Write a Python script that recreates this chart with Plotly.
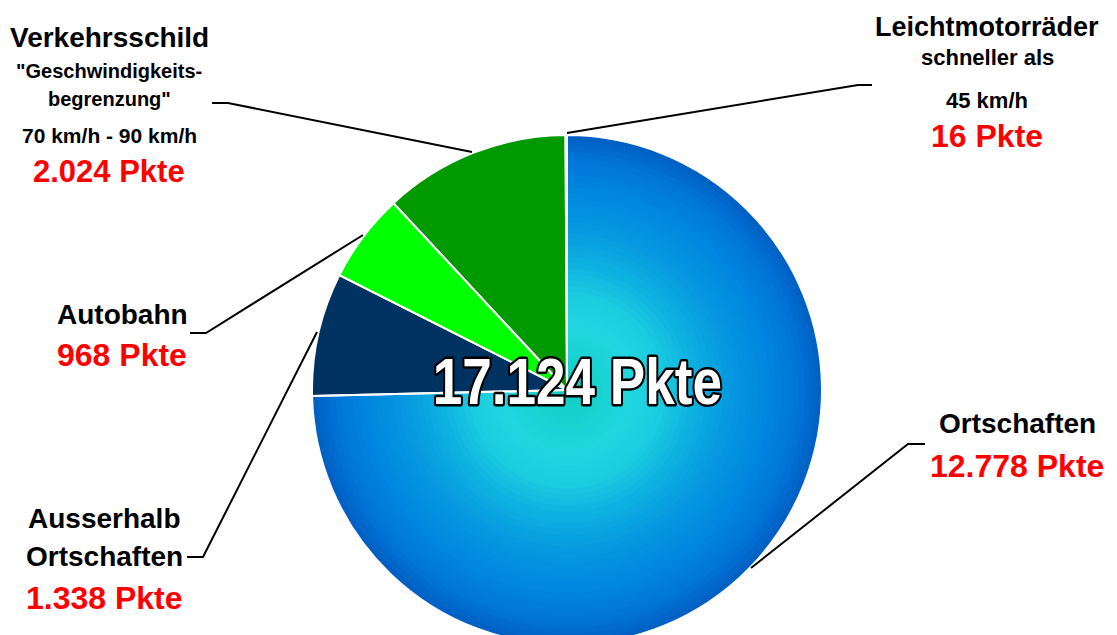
import plotly.graph_objects as go

# ---------------- data ----------------
categories = ["Ortschaften", "Ausserhalb Ortschaften", "Autobahn",
              "Verkehrsschild Geschwindigkeitsbegrenzung", "Leichtmotorräder schneller als 45 km/h"]
values = [12778, 1338, 968, 2024, 16]
slice_colors = ["#0062c4", "#003262", "#00ff00", "#009900", "#1f7fd0"]

label_lines = {
    "Verkehrsschild Geschwindigkeitsbegrenzung": ["Verkehrsschild", "\"Geschwindigkeits-", "begrenzung\"", "70 km/h - 90 km/h"],
    "Leichtmotorräder schneller als 45 km/h": ["Leichtmotorräder", "schneller als", "45 km/h"],
    "Autobahn": ["Autobahn"],
    "Ausserhalb Ortschaften": ["Ausserhalb", "Ortschaften"],
    "Ortschaften": ["Ortschaften"],
}

W, H = 1117, 650
FONT = "Liberation Sans, Arial, sans-serif"


def de_num(v):
    return f"{v:,}".replace(",", ".")


def px(x, y):
    return x / W, 1 - y / H


fig = go.Figure()

# pie geometry (pixels)
cx, cy, R = 567, 390, 255


def dom(f):
    r = R * f
    return dict(x=[(cx - r) / W, (cx + r) / W], y=[1 - (cy + r) / H, 1 - (cy - r) / H])


# radial gradient for the big slice (approximation with concentric layers)
stops = [(1.00, (0, 96, 196)), (0.92, (0, 116, 216)), (0.80, (0, 134, 224)),
         (0.65, (6, 152, 224)), (0.50, (14, 178, 224)), (0.38, (28, 204, 224)),
         (0.26, (34, 214, 224)), (0.14, (24, 210, 208)), (0.0, (16, 206, 192))]


def grad(f):
    for (f1, c1), (f2, c2) in zip(stops[:-1], stops[1:]):
        if f2 <= f <= f1:
            t = (f1 - f) / (f1 - f2) if f1 != f2 else 0
            c = [round(a + (b - a) * t) for a, b in zip(c1, c2)]
            return f"rgb({c[0]},{c[1]},{c[2]})"
    return "rgb(16,206,192)"


n_layers = 44
for i in range(n_layers):
    f = 1 - i / n_layers
    cols = [grad(f)] + (slice_colors[1:] if i == 0 else ["rgba(0,0,0,0)"] * (len(values) - 1))
    fig.add_trace(go.Pie(
        labels=categories, values=values, sort=False, direction="clockwise", rotation=0,
        marker=dict(colors=cols, line=dict(width=0)),
        textinfo="none", hoverinfo="skip", showlegend=False, domain=dom(f),
    ))

# white slice borders on top
fig.add_trace(go.Pie(
    labels=categories, values=values, sort=False, direction="clockwise", rotation=0,
    marker=dict(colors=["rgba(0,0,0,0)"] * len(values), line=dict(color="white", width=2)),
    textinfo="none", hoverinfo="skip", showlegend=False, domain=dom(1),
))

annotations = []


def add_text(x, y, text, size, color="black", family=FONT):
    ax, ay = px(x, y)
    annotations.append(dict(x=ax, y=ay, xref="paper", yref="paper", text=f"<b>{text}</b>",
                            showarrow=False, xanchor="center", yanchor="middle",
                            font=dict(size=size, color=color, family=family)))


# label blocks: (center x, line y positions, sizes, value y, value size)
blocks = {
    "Verkehrsschild Geschwindigkeitsbegrenzung": (109, [38, 71, 99, 135], [28, 20, 20, 21], 171, 31),
    "Leichtmotorräder schneller als 45 km/h": (987, [27, 58, 100], [27, 22, 22], 136, 32),
    "Autobahn": (122, [314], [28], 355, 32),
    "Ausserhalb Ortschaften": (104, [518, 556], [28, 28], 598, 32),
    "Ortschaften": (1017, [424], [28], 466, 32),
}
for cat, (bx, ys, sizes, vy, vs) in blocks.items():
    for line, y, s in zip(label_lines[cat], ys, sizes):
        add_text(bx, y, line, s)
    add_text(bx, vy, f"{de_num(values[categories.index(cat)])} Pkte", vs, color="#ff0000")

# total in the middle
tx, ty = px(577, 382)
annotations.append(dict(
    x=tx, y=ty, xref="paper", yref="paper", showarrow=False,
    text=f"<b>{de_num(sum(values))} Pkte</b>", xanchor="center", yanchor="middle",
    font=dict(size=64, color="white", family="Liberation Sans, Arial, sans-serif"),
))

# leader lines
leaders = [
    [(212, 103), (228, 103), (472, 152)],
    [(567, 133), (858, 85), (872, 85)],
    [(190, 333), (206, 333), (363, 235)],
    [(187, 557), (203, 557), (317, 332)],
    [(751, 568), (908, 444), (925, 444)],
]
shapes = []
for pts in leaders:
    path = "M " + " L ".join(f"{p[0] / W:.5f},{1 - p[1] / H:.5f}" for p in pts)
    shapes.append(dict(type="path", path=path, xref="paper", yref="paper",
                       line=dict(color="black", width=2)))

fig.update_layout(
    width=W, height=H, margin=dict(l=0, r=0, t=0, b=0),
    paper_bgcolor="white", plot_bgcolor="white",
    annotations=annotations, shapes=shapes, showlegend=False,
)

post = """
document.body.style.margin='0';
document.documentElement.style.overflow='hidden';
document.body.style.overflow='hidden';
document.querySelectorAll('.annotation-text').forEach(function(t){
  if (t.textContent.indexOf('17.124') >= 0) {
    t.style.transformBox = 'fill-box';
    t.style.transformOrigin = 'center';
    t.style.transform = 'scaleX(0.83)';
    t.style.stroke = '#000';
    t.style.strokeWidth = '5px';
    t.style.strokeLinejoin = 'round';
    t.style.paintOrder = 'stroke fill';
  }
});
"""

fig.write_html("out.html", config={"displayModeBar": False}, post_script=post)
